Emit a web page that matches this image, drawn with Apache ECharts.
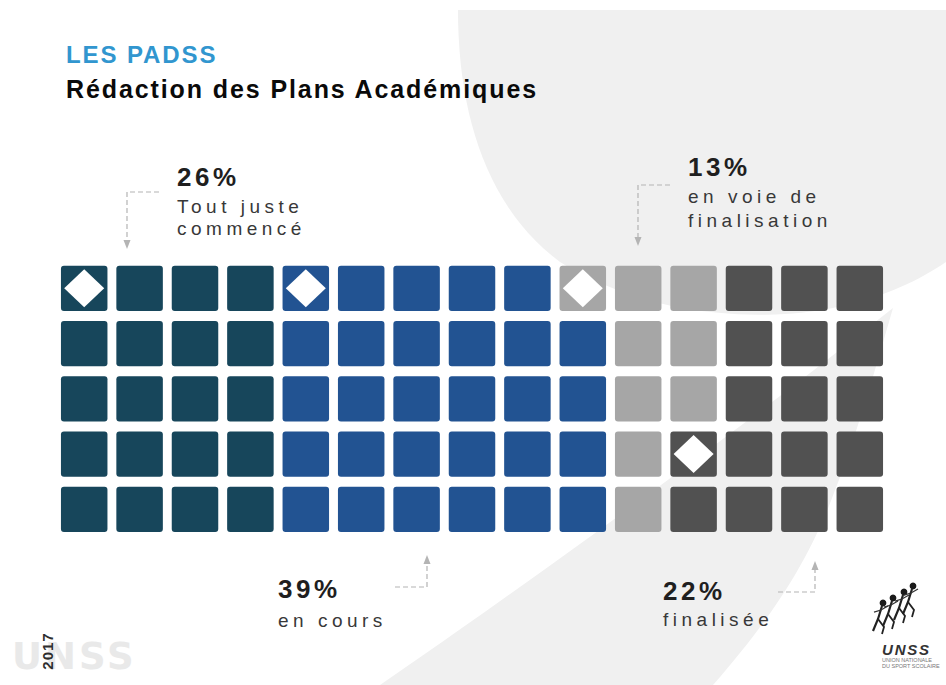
<!DOCTYPE html>
<html>
<head>
<meta charset="utf-8">
<script src="https://cdn.jsdelivr.net/npm/echarts@6/dist/echarts.min.js"></script>
<style>
  html, body { margin: 0; padding: 0; background: #ffffff; }
  #chart { width: 946px; height: 685px; }
  /* tracking for the captions; the SVG renderer writes each line as a <text> with its fill */
  #chart text[fill="#3196cf"] { letter-spacing: 1.9px; }
  #chart text[fill="#0a0a0a"] { letter-spacing: 1.9px; }
  #chart text[fill="#1f1f1f"] { letter-spacing: 3.5px; }
  #chart text[fill="#383838"] { letter-spacing: 4.5px; }
  #chart text[fill="#e9e9e9"] { letter-spacing: 3px; }
  #chart text[fill="#2e2e2e"] { letter-spacing: 1px; }
  #chart text[fill="#333333"] { letter-spacing: 1.8px; }
</style>
</head>
<body>
<div id="chart"></div>
<script>
// ---- data ----
const titleKicker = 'LES PADSS';
const titleMain = 'Rédaction des Plans Académiques';
const statusNames = ['Tout juste commencé', 'en cours', 'en voie de finalisation', 'finalisée'];
const statusCaptions = [['Tout juste', 'commencé'], ['en cours'], ['en voie de', 'finalisation'], ['finalisée']];
const statusShares = [26, 39, 13, 22];           // per cent
const columnIds = ['0','1','2','3','4','5','6','7','8','9','10','11','12','13','14'];
const rowIds = ['0','1','2','3','4'];
// status index of every cell, row by row
const cellRow0 = [0,0,0,0,1,1,1,1,1,2,2,2,3,3,3];
const cellRow1 = [0,0,0,0,1,1,1,1,1,1,2,2,3,3,3];
const cellRow2 = [0,0,0,0,1,1,1,1,1,1,2,2,3,3,3];
const cellRow3 = [0,0,0,0,1,1,1,1,1,1,2,3,3,3,3];
const cellRow4 = [0,0,0,0,1,1,1,1,1,1,2,3,3,3,3];
// cell [column, row] that opens each status block
const firstCells = [[0,0],[4,0],[9,0],[11,3]];

// ---- style ----
const statusColors = ['#17465b', '#225392', '#a6a6a6', '#515151'];
const FONT = '"Liberation Sans", Arial, sans-serif';

const cellRows = [cellRow0, cellRow1, cellRow2, cellRow3, cellRow4];
const cellData = [];
cellRows.forEach((row, r) => row.forEach((s, c) => cellData.push([columnIds[c], rowIds[r], s])));
const diamondData = firstCells.map(([c, r]) => [columnIds[c], rowIds[r]]);

// text placed by its baseline (dominant-baseline central sits ~0.35em above it)
function textAt(text, x, baseline, size, weight, fill, extra, family) {
  return Object.assign({
    type: 'text', z: 20, silent: true,
    style: {
      text: text, x: x, y: baseline - 0.35 * size,
      font: weight + ' ' + size + 'px ' + (family || FONT),
      fill: fill, textAlign: 'left', textVerticalAlign: 'middle'
    }
  }, extra || {});
}

// outline made of straight and cubic segments, flattened into polygon points
function outline(start, segments) {
  const pts = [start];
  let cur = start;
  segments.forEach(seg => {
    if (seg.length === 1) { pts.push(seg[0]); cur = seg[0]; return; }
    const [c1, c2, end] = seg;
    for (let i = 1; i <= 24; i++) {
      const t = i / 24, u = 1 - t;
      pts.push([
        u*u*u*cur[0] + 3*u*u*t*c1[0] + 3*u*t*t*c2[0] + t*t*t*end[0],
        u*u*u*cur[1] + 3*u*u*t*c1[1] + 3*u*t*t*c2[1] + t*t*t*end[1]
      ]);
    }
    cur = end;
  });
  return pts;
}

// caption layout: where each status caption sits, and its dashed leader
const captionLayout = [
  { x: 177, pct: 186, lines: [212.7, 235.3], leader: [[159,192],[127,192],[127,241]], tip: [127,249], dir: 1 },
  { x: 278, pct: 598, lines: [627],          leader: [[395,587],[427,587],[427,564]], tip: [427,555], dir: -1 },
  { x: 688, pct: 176, lines: [203.3, 227.3], leader: [[670,185],[638,185],[638,238]], tip: [638,246], dir: 1 },
  { x: 663, pct: 600, lines: [626],          leader: [[778,592],[815,592],[815,570]], tip: [815,561], dir: -1 }
];

const graphics = [];
// soft background shapes
graphics.push({
  type: 'polygon', z: 0, silent: true,
  shape: { points: outline([458,10], [
    [[458,120],[490,210],[560,262]],
    [[630,305],[710,318],[785,314]],
    [[850,310],[905,290],[946,262]],
    [[946,10]]
  ]) },
  style: { fill: '#f0f0f0' }
});
graphics.push({
  type: 'polygon', z: 0, silent: true,
  shape: { points: outline([380,685], [
    [[540,575],[740,430],[893,308]],
    [[875,370],[855,440],[835,490]],
    [[810,560],[770,620],[713,685]]
  ]) },
  style: { fill: '#f0f0f0' }
});

// titles
graphics.push(textAt(titleKicker, 66, 63, 24, 'bold', '#3196cf'));
graphics.push(textAt(titleMain, 66, 98, 25, 'bold', '#0a0a0a'));

// captions with leaders
captionLayout.forEach((L, i) => {
  graphics.push(textAt(statusShares[i] + '%', L.x, L.pct, 26, 'bold', '#1f1f1f'));
  statusCaptions[i].forEach((line, k) => graphics.push(textAt(line, L.x, L.lines[k], 19, 'normal', '#383838')));
  graphics.push({
    type: 'polyline', z: 20, silent: true,
    shape: { points: L.leader },
    style: { stroke: '#b4b4b4', lineWidth: 1.2, lineDash: [5, 3], fill: null }
  });
  const t = L.tip;
  graphics.push({
    type: 'polygon', z: 20, silent: true,
    shape: { points: [[t[0], t[1]], [t[0] - 3.5, t[1] - 9 * L.dir], [t[0] + 3.5, t[1] - 9 * L.dir]] },
    style: { fill: '#b4b4b4' }
  });
});

// bottom-left watermark and year
graphics.push(textAt('UNSS', 12, 669, 37, 'bold', '#e9e9e9', { z: 5 }, '"DejaVu Sans", sans-serif'));
graphics.push({
  type: 'text', z: 21, silent: true, x: 47, y: 651, rotation: Math.PI / 2,
  style: { text: '2017', x: 0, y: 0, font: 'bold 15px ' + FONT, fill: '#2e2e2e', textAlign: 'center', textVerticalAlign: 'middle' }
});

// federation mark, bottom right: four little runners and the wordmark
const runnerHeads = [[883,603],[893,598],[904,592],[913,586]];
runnerHeads.forEach(([hx, hy]) => {
  graphics.push({ type: 'circle', z: 20, silent: true, shape: { cx: hx, cy: hy, r: 3.4 }, style: { fill: '#1a1a1a' } });
  graphics.push({ type: 'polyline', z: 20, silent: true,
    shape: { points: [[hx - 1, hy + 3], [hx - 5, hy + 16], [hx - 10, hy + 28]] },
    style: { stroke: '#222', lineWidth: 2.2, fill: null } });
  graphics.push({ type: 'polyline', z: 20, silent: true,
    shape: { points: [[hx - 5, hy + 16], [hx + 1, hy + 24], [hx - 1, hy + 31]] },
    style: { stroke: '#222', lineWidth: 1.8, fill: null } });
  graphics.push({ type: 'polyline', z: 20, silent: true,
    shape: { points: [[hx - 9, hy + 9], [hx - 2, hy + 7], [hx + 5, hy + 3]] },
    style: { stroke: '#333', lineWidth: 1.3, fill: null } });
});
graphics.push(textAt('UNSS', 882, 655, 15, 'italic bold', '#333333'));
graphics.push(textAt('UNION NATIONALE', 882, 662, 5.5, 'normal', '#777777'));
graphics.push(textAt('DU SPORT SCOLAIRE', 882, 668, 5.5, 'normal', '#777777'));

const chart = echarts.init(document.getElementById('chart'), null, { renderer: 'svg', width: 946, height: 685 });
chart.setOption({
  backgroundColor: '#ffffff',
  animation: false,
  grid: { left: 56.5, top: 260.7, width: 831, height: 276.25, containLabel: false },
  xAxis: { type: 'category', data: columnIds, show: false, boundaryGap: true },
  yAxis: { type: 'category', data: rowIds, show: false, inverse: true, boundaryGap: true },
  tooltip: { show: false },
  graphic: graphics,
  series: [
    {
      name: 'cellules', type: 'custom', z: 3,
      data: cellData,
      renderItem: function (params, api) {
        const p = api.coord([api.value(0), api.value(1)]);
        const band = api.size([1, 1]);
        const w = band[0] - 8.9, h = band[1] - 10;
        return {
          type: 'rect',
          shape: { x: p[0] - w / 2, y: p[1] - h / 2, width: w, height: h, r: 3 },
          style: { fill: statusColors[api.value(2)] }
        };
      }
    },
    {
      name: 'repères', type: 'scatter', z: 4, silent: true,
      symbol: 'diamond', symbolSize: [40, 38],
      itemStyle: { color: '#ffffff', opacity: 1 },
      data: diamondData
    }
  ]
});
</script>
</body>
</html>
